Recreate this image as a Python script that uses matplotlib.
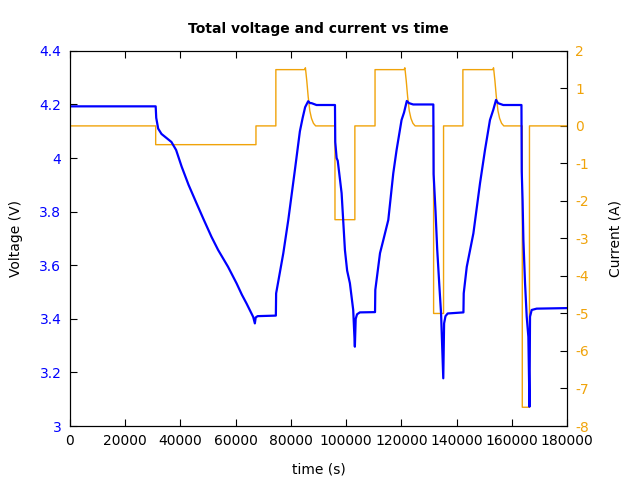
import matplotlib
matplotlib.use('Agg')
import matplotlib.pyplot as plt

plt.rcParams['axes.unicode_minus'] = False

# voltage trace (time in s, voltage in V)
time_v = [0, 31100, 31300, 32000, 33200, 35000, 36800, 38500, 40500, 43000,
          45900, 48500, 51300, 53700, 57300, 60400, 62300, 64000, 66400, 67000,
          67300, 68000, 74600, 74700, 76000, 77300, 79100, 81500, 83300, 84300,
          85200, 86300, 87000, 87500, 89300, 96000, 96100, 96600, 97000, 98400,
          99600, 100400, 101400, 102600, 103200, 103500, 104000, 105000, 110500, 110600,
          112300, 113500, 115300, 117100, 118300, 120100, 121000, 122000, 122800, 124300,
          131600, 131700, 132400, 133000, 133800, 134400, 135200, 135500, 136000, 136800,
          142500, 142600, 143700, 146100, 148500, 150300, 152100, 153300, 154300, 155000,
          156900, 163500, 163600, 163900, 164200, 164800, 165400, 166000, 166400, 166600,
          167200, 169000, 180000]
voltage = [4.193, 4.193, 4.15, 4.11, 4.09, 4.075, 4.06, 4.03, 3.968, 3.90,
           3.831, 3.77, 3.706, 3.657, 3.594, 3.532, 3.49, 3.457, 3.407, 3.383,
           3.405, 3.41, 3.412, 3.495, 3.57, 3.645, 3.769, 3.956, 4.10, 4.15,
           4.19, 4.212, 4.205, 4.205, 4.198, 4.198, 4.06, 4.00, 3.99, 3.869,
           3.657, 3.58, 3.533, 3.433, 3.296, 3.40, 3.417, 3.424, 3.425, 3.508,
           3.645, 3.694, 3.769, 3.943, 4.03, 4.142, 4.17, 4.213, 4.205, 4.20,
           4.20, 3.94, 3.80, 3.66, 3.52, 3.42, 3.178, 3.383, 3.41, 3.42,
           3.424, 3.495, 3.594, 3.719, 3.906, 4.03, 4.142, 4.18, 4.217, 4.205,
           4.198, 4.198, 3.95, 3.844, 3.694, 3.533, 3.408, 3.333, 3.072, 3.408,
           3.433, 3.438, 3.44]

# current trace (time in s, current in A)
time_i = [0, 31100, 31100, 67400, 67400, 74600, 74600, 85000, 85300, 85800,
          86300, 86900, 87500, 88200, 89000, 96000, 96000, 103200, 103200, 110500,
          110500, 121000, 121300, 121800, 122300, 122900, 123500, 124200, 125000, 131700,
          131700, 135300, 135300, 142300, 142300, 153100, 153400, 153900, 154400, 155000,
          155600, 156300, 157100, 163800, 163800, 166400, 166400, 180000]
current = [0, 0, -0.5, -0.5, 0, 0, 1.5, 1.5, 1.55, 1.2,
           0.78, 0.4, 0.2, 0.07, 0, 0, -2.5, -2.5, 0, 0,
           1.5, 1.5, 1.55, 1.2, 0.78, 0.4, 0.2, 0.07, 0, 0,
           -5, -5, 0, 0, 1.5, 1.5, 1.55, 1.2, 0.78, 0.4,
           0.2, 0.07, 0, 0, -7.5, -7.5, 0, 0]

x_ticks = list(range(0, 180001, 20000))
v_ticks = [3, 3.2, 3.4, 3.6, 3.8, 4, 4.2, 4.4]
v_labels = ['3', '3.2', '3.4', '3.6', '3.8', '4', '4.2', '4.4']
i_ticks = list(range(-8, 3))

orange = '#f0a30a'

fig = plt.figure(figsize=(6.4, 4.8), dpi=100)
ax = fig.add_axes([0.109, 0.1125, 0.777, 0.7815])
ax2 = ax.twinx()

ax2.plot(time_i, current, color=orange, lw=1.0)
ax.plot(time_v, voltage, color='#0000ff', lw=1.6)
ax.set_zorder(2)
ax.patch.set_visible(False)

ax.set_xlim(0, 180000)
ax.set_ylim(3, 4.4)
ax2.set_ylim(-8, 2)

ax.set_xticks(x_ticks)
ax.set_xticklabels([str(t) for t in x_ticks])
ax.set_yticks(v_ticks)
ax.set_yticklabels(v_labels)
ax2.set_yticks(i_ticks)

ax.tick_params(axis='x', direction='in', top=True, length=5, labelsize=10, pad=6)
ax.tick_params(axis='y', direction='in', right=False, length=5, labelsize=10,
               labelcolor='#0000ff', pad=6)
ax2.tick_params(axis='y', direction='in', length=5, labelsize=10,
                labelcolor=orange, pad=6)

ax.set_xlabel('time (s)', fontsize=10, labelpad=10)
ax.set_ylabel('Voltage (V)', fontsize=10, labelpad=12)
ax2.set_ylabel('Current (A)', fontsize=10, labelpad=14)
ax.set_title('Total voltage and current vs time', fontsize=10,
             fontweight='bold', pad=13)

fig.savefig('out.png', dpi=100)
